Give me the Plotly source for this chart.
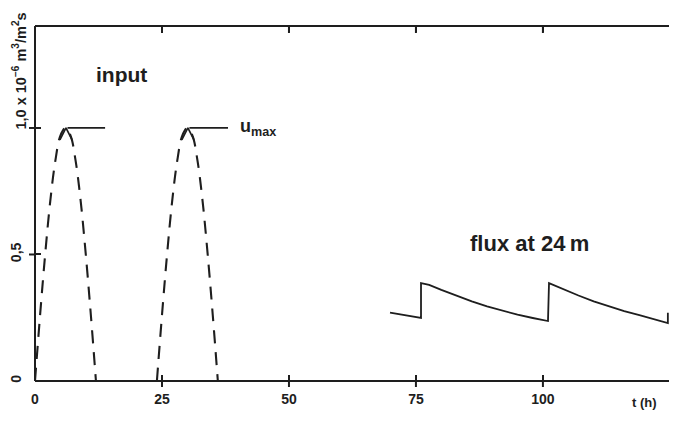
import plotly.graph_objects as go

# ---- data ----
pulse1_t = [0, 1, 2, 3, 4, 5, 6, 7, 8, 9, 10, 11, 12]
pulse1_u = [0, 0.26, 0.5, 0.71, 0.87, 0.97, 1.0, 0.97, 0.87, 0.71, 0.5, 0.26, 0]
pulse2_t = [24, 25, 26, 27, 28, 29, 30, 31, 32, 33, 34, 35, 36]
pulse2_u = [0, 0.26, 0.5, 0.71, 0.87, 0.97, 1.0, 0.97, 0.87, 0.71, 0.5, 0.26, 0]

peak1_t = [4.9, 6.1, 7.3]
peak1_u = [0.953, 1.0, 0.953]
peak2_t = [28.9, 30.1, 31.3]
peak2_u = [0.953, 1.0, 0.953]

umax1_t = [6.4, 13.8]
umax1_u = [1.0, 1.0]
umax2_t = [30.4, 38.0]
umax2_u = [1.0, 1.0]

flux_t = [69.9, 72, 74, 76, 76, 77.6, 80, 83, 86, 89, 92, 95, 98, 101,
          101.2, 104, 107, 110, 113, 116, 119, 122, 124.6, 124.6]
flux_u = [0.27, 0.262, 0.255, 0.249, 0.387, 0.38, 0.36, 0.337, 0.315, 0.295, 0.277, 0.262, 0.249, 0.237,
          0.387, 0.362, 0.338, 0.315, 0.295, 0.276, 0.26, 0.243, 0.229, 0.27]

x_ticks = [25, 50, 75, 100]
x_label_vals = [0, 25, 50, 75, 100]
x_label_text = ["0", "25", "50", "75", "100"]
y_ticks = [0.5, 1.0]
y_label_vals = [0, 0.5, 1.0]
y_label_text = ["0", "0,5", ""]

INK = "#1e1e1e"
FONT = "Liberation Sans, Arial, Helvetica, sans-serif"
XR = [0, 126.4]
YR = [0, 1.403]

fig = go.Figure()
for t, u in [(pulse1_t, pulse1_u), (pulse2_t, pulse2_u)]:
    fig.add_trace(go.Scatter(x=t, y=u, mode="lines",
                             line=dict(color=INK, width=2.1, dash="13px,9px", shape="spline")))
for t, u in [(peak1_t, peak1_u), (peak2_t, peak2_u), (umax1_t, umax1_u), (umax2_t, umax2_u)]:
    fig.add_trace(go.Scatter(x=t, y=u, mode="lines", line=dict(color=INK, width=1.7)))
fig.add_trace(go.Scatter(x=flux_t, y=flux_u, mode="lines", line=dict(color=INK, width=1.8)))

# the page body has an 8px margin, so the margins are shifted by 8px
fig.update_layout(
    width=677, height=422,
    margin=dict(l=27, r=8, t=18, b=49),
    paper_bgcolor="white", plot_bgcolor="white",
    showlegend=False,
    font=dict(family=FONT, color=INK, size=14),
    xaxis=dict(range=XR, showgrid=False, zeroline=False, showline=False, automargin=False,
               mirror="ticks", ticks="inside", tickvals=x_label_vals,
               ticktext=["<b>%s</b>" % s for s in x_label_text],
               ticklen=6, tickwidth=2, tickcolor=INK, ticklabelstandoff=8,
               tickfont=dict(family=FONT, size=14, color=INK)),
    yaxis=dict(range=YR, showgrid=False, zeroline=False, showline=False, automargin=False,
               ticks="inside", tickvals=y_label_vals,
               ticktext=["<b>%s</b>" % s if s else "" for s in y_label_text],
               ticklen=6, tickwidth=2, tickcolor=INK, tickangle=-90, ticklabelstandoff=10,
               tickfont=dict(family=FONT, size=14, color=INK)),
)

# frame: left, bottom and top lines (the right side is cut off)
frame = dict(color=INK, width=2)
fig.add_shape(type="line", xref="paper", yref="paper", x0=0, x1=0, y0=0, y1=1, line=frame, layer="above")
fig.add_shape(type="line", xref="paper", yref="paper", x0=0, x1=1, y0=0, y1=0, line=frame, layer="above")
fig.add_shape(type="line", xref="paper", yref="paper", x0=0, x1=1, y0=1, y1=1, line=frame, layer="above")

# outer halves of the crossing ticks, top ticks, and the ticks of the (cut off) right axis
for v in x_ticks:
    fig.add_shape(type="line", xref="x", x0=v, x1=v, yref="paper", ysizemode="pixel", yanchor=0,
                  y0=0, y1=-6, line=dict(color=INK, width=2))
    fig.add_shape(type="line", xref="x", x0=v, x1=v, yref="paper", ysizemode="pixel", yanchor=1,
                  y0=0, y1=-7, line=dict(color=INK, width=2))
for v in y_ticks:
    fig.add_shape(type="line", yref="y", y0=v, y1=v, xref="paper", xsizemode="pixel", xanchor=0,
                  x0=-6, x1=0, line=dict(color=INK, width=2))
    fig.add_shape(type="line", yref="y", y0=v, y1=v, xref="paper", xsizemode="pixel", xanchor=1,
                  x0=-6, x1=0, line=dict(color=INK, width=2))

fig.add_annotation(x=17.1, y=1.21, text="<b>input</b>", showarrow=False,
                   font=dict(family=FONT, size=21, color=INK))
fig.add_annotation(x=97.4, y=0.545, text="<b>flux at 24\u2009m</b>", showarrow=False,
                   font=dict(family=FONT, size=22, color=INK))
fig.add_annotation(x=40.0, y=1.0, text="<b>u</b><sub><b>max</b></sub>", showarrow=False,
                   xanchor="left", yanchor="middle", font=dict(family=FONT, size=18, color=INK))
fig.add_annotation(x=120, xref="x", y=0, yref="paper", yanchor="top", yshift=-12,
                   text="<b>t (h)</b>", showarrow=False, font=dict(family=FONT, size=13, color=INK))
fig.add_annotation(x=0, xref="paper", xshift=-16, xanchor="center", y=0.984, yref="y", yanchor="bottom",
                   text="<b>1,0 x 10<sup>−6</sup> m<sup>3</sup>/m<sup>2</sup>s</b>", textangle=-90,
                   showarrow=False, font=dict(family=FONT, size=14.5, color=INK))

fig.write_html("out.html")
